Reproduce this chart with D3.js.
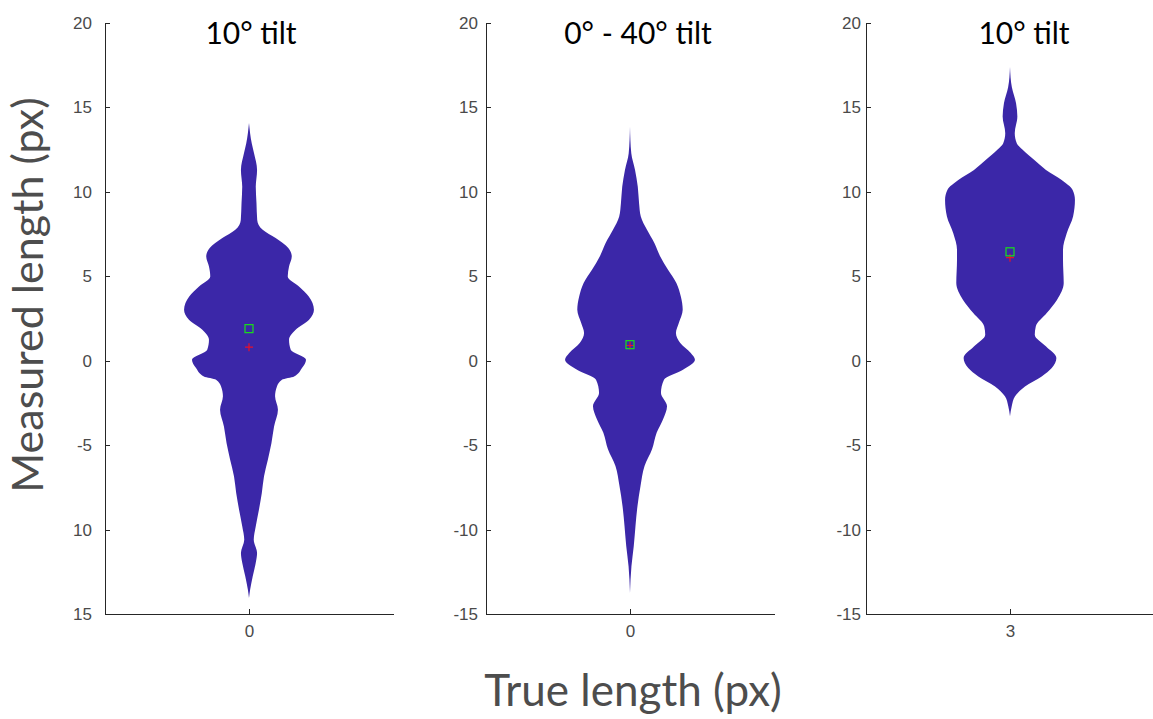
<!DOCTYPE html>
<html>
<head>
<meta charset="utf-8">
<script src="https://cdn.jsdelivr.net/npm/d3@7"></script>
<style>
  html, body { margin: 0; padding: 0; background: #fff; }
  svg { display: block; }
</style>
</head>
<body>
<svg id="chart" width="1153" height="719"></svg>
<script>
// ---- data -------------------------------------------------------------
const titles = ["10° tilt", "0° - 40° tilt", "10° tilt"];
const categories = [0, 0, 3];
const yTickValues = [-15, -10, -5, 0, 5, 10, 15, 20];
// tick text as printed on each panel (the first panel lost its minus signs below -5)
const yTickLabelsFirst = ["15", "10", "-5", "0", "5", "10", "15", "20"];
const yTickLabels = ["-15", "-10", "-5", "0", "5", "10", "15", "20"];

const meanValues = [1.9, 0.95, 6.45];
const medianValues = [0.8, 0.9, 6.1];

// violin outlines: measured length (px) and half-width of the density
const violin1Levels = [14.08, 12.88, 12.29, 11.3, 10.3, 9.33, 8.34, 7.75, 7.26, 6.67, 6.17, 5.58, 4.99, 4.4, 3.8, 3.02, 2.43, 1.83, 1.24, 0.65, 0.06, -0.43, -0.93, -1.12, -1.52, -2.11, -2.9, -3.89, -4.87, -5.86, -6.85, -7.83, -8.82, -9.8, -10.6, -11.38, -11.97, -12.76, -13.55, -14.05];
const violin1Widths = [0, 0.019, 0.035, 0.056, 0.047, 0.052, 0.057, 0.095, 0.185, 0.273, 0.297, 0.278, 0.269, 0.347, 0.415, 0.451, 0.417, 0.324, 0.278, 0.29, 0.396, 0.368, 0.313, 0.229, 0.194, 0.181, 0.201, 0.174, 0.156, 0.131, 0.104, 0.089, 0.069, 0.047, 0.033, 0.056, 0.047, 0.026, 0.008, 0];

const violin2Levels = [13.86, 12.29, 11.3, 10.3, 9.33, 8.54, 7.75, 6.96, 6.17, 5.38, 4.6, 3.8, 3.02, 2.23, 1.64, 1.05, 0.45, 0.06, -0.53, -1.12, -1.9, -2.7, -3.48, -4.27, -5.25, -6.24, -7.42, -8.6, -9.8, -10.99, -12.17, -13.75];
const violin2Widths = [0, 0.009, 0.035, 0.054, 0.063, 0.075, 0.118, 0.17, 0.21, 0.264, 0.322, 0.353, 0.366, 0.339, 0.319, 0.349, 0.422, 0.451, 0.368, 0.236, 0.215, 0.257, 0.229, 0.185, 0.153, 0.101, 0.073, 0.052, 0.038, 0.026, 0.01, 0];

const violin3Levels = [17.4, 16.2, 15.25, 14.46, 13.47, 12.88, 12.49, 11.9, 11.3, 10.7, 10.12, 9.53, 8.54, 7.55, 6.57, 5.98, 4.6, 3.6, 2.82, 2.03, 1.54, 0.85, 0.16, -0.43, -0.93, -1.52, -2.11, -2.7, -3.29];
const violin3Widths = [0, 0.013, 0.042, 0.051, 0.033, 0.047, 0.088, 0.167, 0.25, 0.359, 0.434, 0.451, 0.438, 0.394, 0.368, 0.368, 0.373, 0.326, 0.255, 0.179, 0.172, 0.249, 0.322, 0.29, 0.22, 0.104, 0.035, 0.012, 0];

const violinLevels = [violin1Levels, violin2Levels, violin3Levels];
const violinWidths = [violin1Widths, violin2Widths, violin3Widths];

// ---- layout -----------------------------------------------------------
const svg = d3.select("#chart");
const panelLeft = [105, 486, 866];
const panelWidth = 288;
const plotTop = 23, plotBottom = 614;
const tickPad = [13, 8, 5];
const titleX = [251, 638, 1024];

const violinColor = "#3b27a8";
const axisColor = "#262626";
const tickTextColor = "#4a4a4a";

const y = d3.scaleLinear().domain([-15, 20]).range([plotBottom, plotTop]);

titles.forEach((title, i) => {
  const c = categories[i];
  const x = d3.scaleLinear().domain([c - 1, c + 1]).range([panelLeft[i], panelLeft[i] + panelWidth]);
  const g = svg.append("g");

  // violin body
  const rows = violinLevels[i].map((v, k) => ({ v, w: violinWidths[i][k] }));
  const area = d3.area()
    .y(d => y(d.v))
    .x0(d => x(c - d.w))
    .x1(d => x(c + d.w))
    .curve(d3.curveMonotoneY);
  g.append("path")
    .datum(rows)
    .attr("d", area)
    .attr("fill", violinColor);

  // median (+) and mean (square)
  const mx = x(c);
  const my = y(medianValues[i]);
  g.append("path")
    .attr("d", `M${mx - 4},${my}H${mx + 4}M${mx},${my - 4}V${my + 4}`)
    .attr("stroke", "#e8102a")
    .attr("stroke-width", 1.2)
    .attr("fill", "none");
  const sy = y(meanValues[i]);
  g.append("rect")
    .attr("x", mx - 4).attr("y", sy - 4)
    .attr("width", 8).attr("height", 8)
    .attr("fill", "none")
    .attr("stroke", "#19e019")
    .attr("stroke-width", 1.2);

  // axes
  const labels = i === 0 ? yTickLabelsFirst : yTickLabels;
  const yAxis = d3.axisLeft(y)
    .tickValues(yTickValues)
    .tickFormat((d, k) => labels[k])
    .tickSizeInner(-5)
    .tickSizeOuter(0)
    .tickPadding(tickPad[i]);
  const ya = g.append("g")
    .attr("transform", `translate(${panelLeft[i]},0)`)
    .call(yAxis);

  const xAxis = d3.axisBottom(x)
    .tickValues([c])
    .tickFormat(d3.format("d"))
    .tickSizeInner(-5)
    .tickSizeOuter(0)
    .tickPadding(11);
  const xa = g.append("g")
    .attr("transform", `translate(0,${plotBottom})`)
    .call(xAxis);

  [ya, xa].forEach(a => {
    a.select(".domain").attr("stroke", axisColor).attr("shape-rendering", "crispEdges");
    a.selectAll(".tick line").attr("stroke", axisColor).attr("shape-rendering", "crispEdges");
    a.selectAll(".tick text")
      .attr("fill", tickTextColor)
      .style("font-family", "'Liberation Sans', Arial, sans-serif")
      .style("font-size", "17px");
  });

  // panel title
  svg.append("text")
    .attr("x", titleX[i])
    .attr("y", 44)
    .attr("text-anchor", "middle")
    .style("font-family", "Lato, 'Open Sans', sans-serif")
    .style("font-size", "30px")
    .attr("fill", "#000")
    .text(title);
});

// shared axis titles
svg.append("text")
  .attr("transform", "translate(43,295) rotate(-90)")
  .attr("text-anchor", "middle")
  .style("font-family", "Lato, 'Open Sans', sans-serif")
  .style("font-size", "43px")
  .attr("fill", "#4d4d4d")
  .text("Measured length (px)");

svg.append("text")
  .attr("x", 633)
  .attr("y", 706)
  .attr("text-anchor", "middle")
  .style("font-family", "Lato, 'Open Sans', sans-serif")
  .style("font-size", "44px")
  .attr("fill", "#4d4d4d")
  .text("True length (px)");
</script>
</body>
</html>
